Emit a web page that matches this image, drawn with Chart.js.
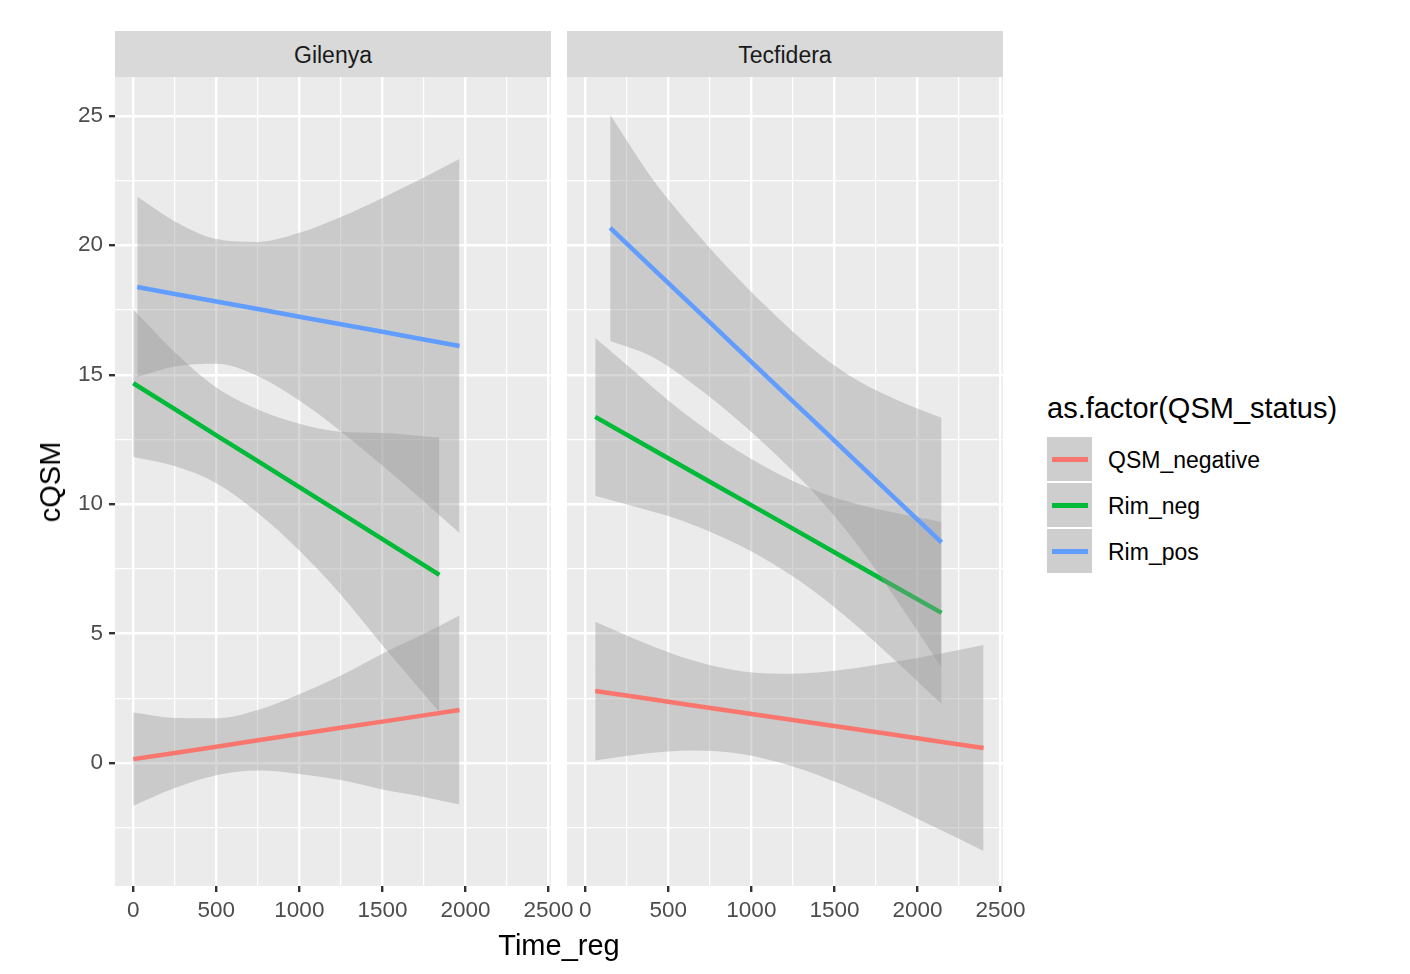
<!DOCTYPE html>
<html>
<head>
<meta charset="utf-8">
<script src="https://cdn.jsdelivr.net/npm/chart.js@4.4.1/dist/chart.umd.min.js"></script>
<style>
  body { margin: 0; background: #fff; font-family: "Liberation Sans", Arial, sans-serif; }
  #wrap { position: relative; width: 1410px; height: 974px; overflow: hidden; }
  canvas { position: absolute; }
  .strip { position: absolute; top: 31px; height: 46px; width: 436px; background: #D9D9D9;
           color: #1A1A1A; font-size: 23px; line-height: 48px; text-align: center; }
  .axtitle { position: absolute; color: #000; font-size: 29px; line-height: 34px; white-space: nowrap; }
  #legend { position: absolute; left: 1047px; top: 390px; }
  #legend .ttl { font-size: 29px; color: #000; height: 47px; line-height: 36px; white-space: nowrap; }
  #legend .row { position: relative; height: 46px; }
  #legend .key { position: absolute; left: 0; top: 0; width: 45px; height: 44px; background: #CECECE; }
  #legend .key i { position: absolute; left: 5px; top: 20px; width: 36px; height: 4.5px; }
  #legend .lab { position: absolute; left: 61px; top: 0; line-height: 46px; font-size: 23px; color: #000; white-space: nowrap; }
</style>
</head>
<body>
<div id="wrap">
  <div class="strip" style="left:115px">Gilenya</div>
  <div class="strip" style="left:567px">Tecfidera</div>
  <canvas id="gil" width="521" height="879" style="left:60px; top:57px"></canvas>
  <canvas id="tec" width="486" height="879" style="left:547px; top:57px"></canvas>
  <div class="axtitle" id="xtitle" style="left:559px; top:928px; transform:translateX(-50%)">Time_reg</div>
  <div class="axtitle" id="ytitle" style="left:50px; top:482px; transform:translate(-50%,-50%) rotate(-90deg)">cQSM</div>
  <div id="legend"></div>
</div>
<script>
const facets = ['Gilenya', 'Tecfidera'];
const groups = ['QSM_negative', 'Rim_neg', 'Rim_pos'];
const groupColors = ['#F8766D', '#00BA38', '#619CFF'];

const yMajor = [0, 5, 10, 15, 20, 25];
const yMinor = [-2.5, 2.5, 7.5, 12.5, 17.5, 22.5];
const xMajor = [0, 500, 1000, 1500, 2000, 2500];
const xMinor = [250, 750, 1250, 1750, 2250];

// Gilenya
const gilNegX   = [0, 250, 500, 750, 1000, 1250, 1500, 1750, 1964];
const gilNegFit = [0.15, 0.39, 0.63, 0.88, 1.12, 1.36, 1.60, 1.84, 2.05];
const gilNegLo  = [-1.65, -0.96, -0.47, -0.29, -0.42, -0.66, -1.02, -1.31, -1.60];
const gilNegHi  = [1.95, 1.74, 1.73, 2.05, 2.66, 3.38, 4.22, 4.99, 5.70];

const gilRnX   = [0, 250, 500, 750, 1000, 1250, 1500, 1843];
const gilRnFit = [14.67, 13.67, 12.66, 11.66, 10.66, 9.65, 8.65, 7.27];
const gilRnLo  = [11.82, 11.47, 10.81, 9.66, 8.21, 6.50, 4.55, 1.97];
const gilRnHi  = [17.52, 15.87, 14.51, 13.66, 13.11, 12.80, 12.75, 12.57];

const gilRpX   = [24, 250, 500, 750, 1000, 1250, 1500, 1750, 1964];
const gilRpFit = [18.39, 18.12, 17.83, 17.54, 17.24, 16.95, 16.66, 16.36, 16.11];
const gilRpLo  = [14.91, 15.32, 15.42, 14.95, 14.00, 12.81, 11.49, 10.10, 8.89];
const gilRpHi  = [21.87, 20.92, 20.24, 20.13, 20.48, 21.09, 21.83, 22.62, 23.33];

// Tecfidera
const tecNegX   = [60, 350, 650, 950, 1250, 1550, 1850, 2150, 2398];
const tecNegFit = [2.78, 2.51, 2.22, 1.94, 1.66, 1.38, 1.10, 0.81, 0.58];
const tecNegLo  = [0.10, 0.36, 0.48, 0.34, -0.13, -0.84, -1.69, -2.62, -3.40];
const tecNegHi  = [5.46, 4.66, 3.96, 3.54, 3.45, 3.60, 3.89, 4.24, 4.56];

const tecRnX   = [60, 300, 550, 800, 1050, 1300, 1550, 1800, 2145];
const tecRnFit = [13.37, 12.50, 11.59, 10.68, 9.78, 8.87, 7.96, 7.05, 5.80];
const tecRnLo  = [10.32, 9.90, 9.44, 8.80, 8.00, 6.99, 5.76, 4.35, 2.29];
const tecRnHi  = [16.42, 15.10, 13.74, 12.56, 11.56, 10.75, 10.16, 9.75, 9.31];

const tecRpX   = [150, 400, 650, 900, 1150, 1400, 1650, 1900, 2145];
const tecRpFit = [20.67, 19.15, 17.63, 16.10, 14.58, 13.06, 11.54, 10.01, 8.52];
const tecRpLo  = [16.30, 15.70, 14.63, 13.35, 11.90, 10.28, 8.34, 6.06, 3.70];
const tecRpHi  = [25.04, 22.60, 20.63, 18.85, 17.26, 15.84, 14.74, 13.96, 13.34];

const panels = {
  Gilenya: [
    [gilNegX, gilNegFit, gilNegLo, gilNegHi],
    [gilRnX, gilRnFit, gilRnLo, gilRnHi],
    [gilRpX, gilRpFit, gilRpLo, gilRpHi]
  ],
  Tecfidera: [
    [tecNegX, tecNegFit, tecNegLo, tecNegHi],
    [tecRnX, tecRnFit, tecRnLo, tecRnHi],
    [tecRpX, tecRpFit, tecRpLo, tecRpHi]
  ]
};

Chart.defaults.font.family = '"Liberation Sans", Arial, sans-serif';

const panelBg = {
  id: 'panelBg',
  beforeDraw(chart) {
    const { ctx, chartArea: a } = chart;
    ctx.save();
    ctx.fillStyle = '#EBEBEB';
    ctx.fillRect(a.left, a.top, a.right - a.left, a.bottom - a.top);
    ctx.restore();
  }
};

const pts = (xs, ys) => xs.map((x, i) => ({ x: x, y: ys[i] }));

function buildDatasets(series) {
  const out = [];
  let k = 0;
  series.forEach((s, g) => {
    const [xs, fit, lo, hi] = s;
    // ggplot order per group: ribbon then line
    out.push({ data: pts(xs, lo), borderWidth: 0, pointRadius: 0, pointHoverRadius: 0, fill: false,
               cubicInterpolationMode: 'monotone', order: 100 - k++ });
    out.push({ data: pts(xs, hi), borderWidth: 0, pointRadius: 0, pointHoverRadius: 0,
               fill: { target: '-1' }, backgroundColor: 'rgba(153,153,153,0.4)',
               cubicInterpolationMode: 'monotone', order: 100 - k++ });
    out.push({ data: pts(xs, fit), borderColor: groupColors[g], borderWidth: 4.5,
               pointRadius: 0, pointHoverRadius: 0, fill: false, tension: 0, order: 100 - k++ });
  });
  return out;
}

function makeChart(id, facet, showY) {
  const isMajorY = v => yMajor.includes(v);
  const isMajorX = v => xMajor.includes(v);
  return new Chart(document.getElementById(id), {
    type: 'line',
    data: { datasets: buildDatasets(panels[facet]) },
    options: {
      responsive: false,
      animation: false,
      devicePixelRatio: 1,
      layout: { padding: { top: 20, right: 30, left: showY ? 0 : 20, bottom: 0 } },
      plugins: { legend: { display: false }, tooltip: { enabled: false } },
      scales: {
        x: {
          type: 'linear', min: -110, max: 2515,
          afterBuildTicks: ax => { ax.ticks = xMajor.concat(xMinor).sort((a, b) => a - b).map(v => ({ value: v })); },
          afterFit: ax => { ax.height = 50; },
          border: { display: false },
          grid: {
            color: '#FFFFFF',
            lineWidth: c => isMajorX(c.tick.value) ? 2.4 : 1.2,
            tickColor: c => isMajorX(c.tick.value) ? '#333333' : 'rgba(0,0,0,0)',
            tickLength: 6, tickWidth: 2.4
          },
          ticks: {
            autoSkip: false, maxRotation: 0, padding: 5,
            color: '#4D4D4D', font: { size: 22.5 },
            callback: v => isMajorX(v) ? String(v) : ''
          }
        },
        y: {
          type: 'linear', min: -4.75, max: 26.5,
          afterBuildTicks: ax => { ax.ticks = yMajor.concat(yMinor).sort((a, b) => a - b).map(v => ({ value: v })); },
          afterFit: ax => { ax.width = showY ? 55 : 0; },
          border: { display: false },
          grid: {
            color: '#FFFFFF',
            lineWidth: c => isMajorY(c.tick.value) ? 2.4 : 1.2,
            drawTicks: showY,
            tickColor: c => isMajorY(c.tick.value) ? '#333333' : 'rgba(0,0,0,0)',
            tickLength: 6, tickWidth: 2.4
          },
          ticks: {
            display: showY, autoSkip: false, padding: 6,
            color: '#4D4D4D', font: { size: 22.5 },
            callback: v => isMajorY(v) ? String(v) : ''
          }
        }
      }
    },
    plugins: [panelBg]
  });
}

makeChart('gil', facets[0], true);
makeChart('tec', facets[1], false);

// legend
const legend = document.getElementById('legend');
legend.innerHTML = '<div class="ttl">as.factor(QSM_status)</div>' +
  groups.map((g, i) => '<div class="row"><div class="key"><i style="background:' + groupColors[i] +
    '"></i></div><div class="lab">' + g + '</div></div>').join('');
</script>
</body>
</html>
